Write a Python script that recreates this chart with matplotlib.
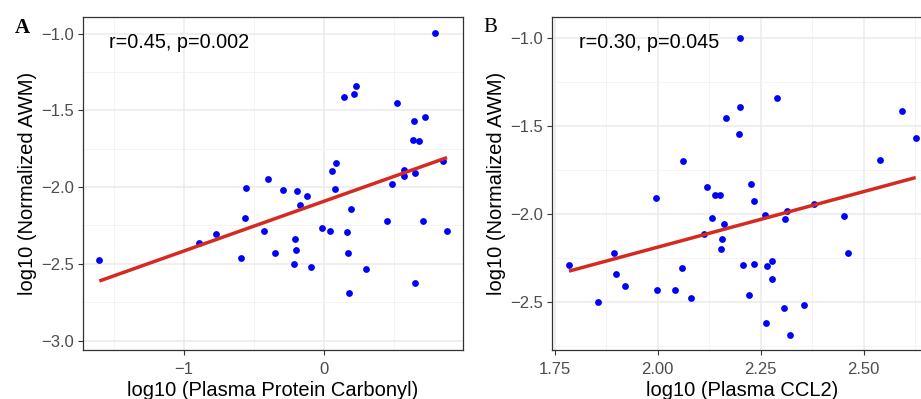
import numpy as np
import matplotlib
matplotlib.use("Agg")
import matplotlib.pyplot as plt
from matplotlib.ticker import MultipleLocator

plt.rcParams['font.family'] = ['Liberation Sans', 'DejaVu Sans']

# panel A: plasma protein carbonyl vs normalized AWM (log10)
carb_x = [0.796, 0.144, 0.216, 0.234, 0.525, 0.649, 0.725, 0.637, 0.682, 0.854,
          0.575, 0.575, 0.656, 0.487, 0.061, 0.087, 0.082, -0.556, -0.399, -0.289,
          -0.189, -0.120, -0.166, 0.196, -0.561, 0.456, 0.711, 0.882, -0.009, 0.046,
          0.170, -0.423, -0.768, -0.887, -0.206, -0.196, -0.346, 0.173, -1.601, -0.587,
          -0.213, -0.089, 0.306, 0.651, 0.180]
carb_y = [-0.998, -1.412, -1.395, -1.340, -1.453, -1.568, -1.545, -1.694, -1.698, -1.833,
          -1.891, -1.928, -1.909, -1.981, -1.893, -1.846, -2.013, -2.008, -1.946, -2.021,
          -2.024, -2.056, -2.115, -2.141, -2.199, -2.219, -2.219, -2.284, -2.267, -2.288,
          -2.295, -2.288, -2.306, -2.366, -2.340, -2.408, -2.429, -2.431, -2.475, -2.462,
          -2.501, -2.518, -2.535, -2.622, -2.690]

# panel B: plasma CCL2 vs normalized AWM (log10)
ccl2_x = [2.199, 2.289, 2.201, 2.166, 2.198, 2.592, 2.626, 2.062, 2.540, 2.226,
          2.121, 2.139, 2.151, 1.995, 2.235, 2.260, 2.313, 2.308, 2.380, 2.451,
          2.462, 2.133, 2.161, 2.113, 2.155, 2.154, 1.894, 1.785, 1.900, 1.921,
          1.855, 1.998, 2.042, 2.058, 2.080, 2.207, 2.235, 2.266, 2.278, 2.278,
          2.221, 2.307, 2.355, 2.264, 2.320]
ccl2_y = [-0.997, -1.341, -1.392, -1.453, -1.544, -1.413, -1.568, -1.699, -1.693, -1.830,
          -1.845, -1.892, -1.890, -1.906, -1.926, -2.006, -1.980, -2.025, -1.943, -2.011,
          -2.218, -2.019, -2.055, -2.114, -2.140, -2.197, -2.218, -2.288, -2.339, -2.407,
          -2.498, -2.428, -2.428, -2.303, -2.474, -2.286, -2.282, -2.296, -2.266, -2.366,
          -2.460, -2.534, -2.517, -2.619, -2.686]

stats_a = "r=0.45, p=0.002"
stats_b = "r=0.30, p=0.045"

fig = plt.figure(figsize=(9.21, 3.99), dpi=100)
axA = fig.add_axes([0.0898, 0.1228, 0.4129, 0.8338])
axB = fig.add_axes([0.599, 0.1228, 0.414, 0.8338])


def style(ax, xmaj, ymaj):
    ax.xaxis.set_major_locator(MultipleLocator(xmaj))
    ax.xaxis.set_minor_locator(MultipleLocator(xmaj / 2))
    ax.yaxis.set_major_locator(MultipleLocator(ymaj))
    ax.yaxis.set_minor_locator(MultipleLocator(ymaj / 2))
    ax.grid(which='major', color='#ebebeb', lw=1.1)
    ax.grid(which='minor', color='#f3f3f3', lw=0.6)
    ax.set_axisbelow(True)
    for s in ax.spines.values():
        s.set_color('#333333')
        s.set_linewidth(0.9)
    ax.tick_params(which='major', direction='out', length=3.5, width=0.8,
                   color='#333333', labelcolor='#4d4d4d', labelsize=12, pad=2.5)
    ax.tick_params(axis='x', which='major', pad=5)
    ax.tick_params(which='minor', length=0)


def panel(ax, x, y):
    x = np.array(x)
    y = np.array(y)
    ax.scatter(x, y, s=24, color='#0000ff', zorder=3, linewidths=0)
    k, b = np.polyfit(x, y, 1)
    xs = np.array([x.min(), x.max()])
    ax.plot(xs, k * xs + b, color='#d42a20', lw=2.5, zorder=4, solid_capstyle='butt')


panel(axA, carb_x, carb_y)
style(axA, 1.0, 0.5)
axA.set_xlim(-1.72, 0.996)
axA.set_ylim(-3.061, -0.894)
axA.set_xlabel("log10 (Plasma Protein Carbonyl)", fontsize=14.5, labelpad=3)
axA.set_ylabel("log10 (Normalized AWM)", fontsize=14.5, labelpad=3)
axA.text(0.07, 0.925, stats_a, transform=axA.transAxes, fontsize=14.3,
         va='center', ha='left')

panel(axB, ccl2_x, ccl2_y)
style(axB, 0.25, 0.5)
axB.xaxis.set_major_formatter(matplotlib.ticker.FormatStrFormatter('%.2f'))
axB.set_xlim(1.743, 2.668)
axB.set_ylim(-2.771, -0.881)
axB.set_xlabel("log10 (Plasma CCL2)", fontsize=14.5, labelpad=3)
axB.set_ylabel("log10 (Normalized AWM)", fontsize=14.5, labelpad=3)
axB.text(0.072, 0.925, stats_b, transform=axB.transAxes, fontsize=14.3,
         va='center', ha='left')

fig.text(22 / 921, 1 - 28 / 399, "A", family='Liberation Serif', fontsize=15,
         fontweight='bold', ha='center', va='center')
fig.text(490 / 921, 1 - 28 / 399, "B", family='Liberation Serif', fontsize=15,
         ha='center', va='center')

fig.savefig("out.png", dpi=100)
